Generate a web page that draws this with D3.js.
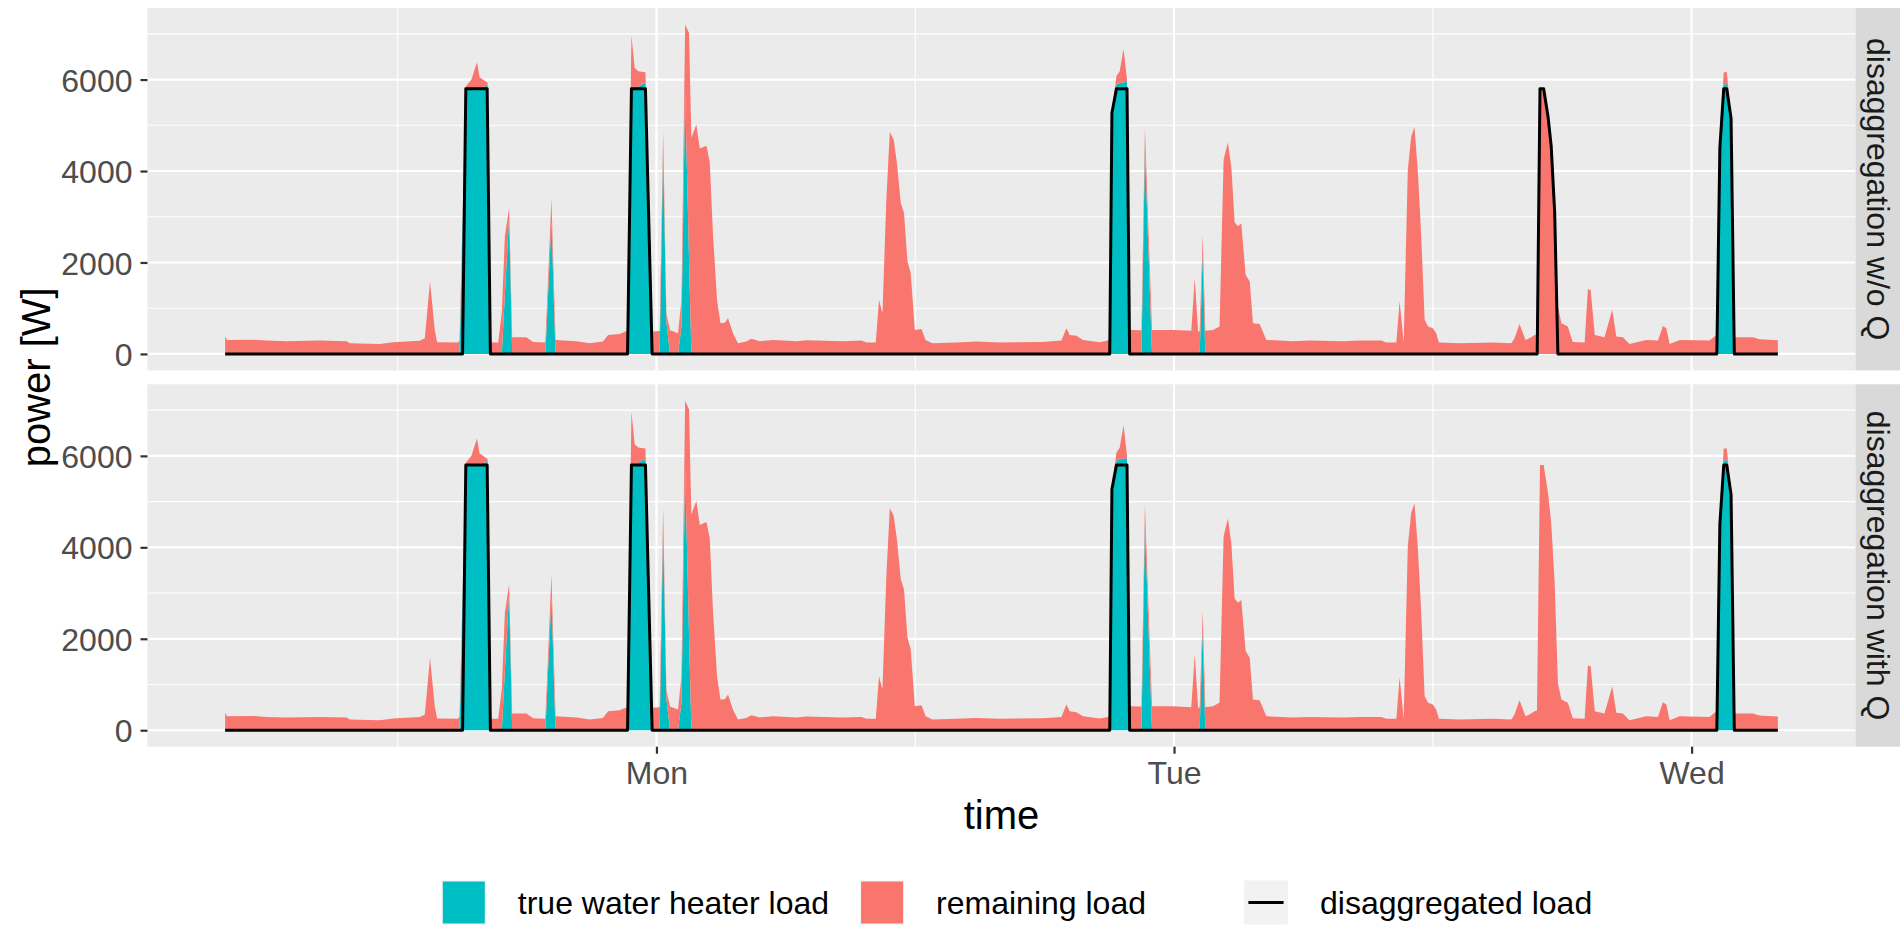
<!DOCTYPE html>
<html><head><meta charset="utf-8">
<script src="https://cdn.jsdelivr.net/npm/d3@7"></script>
<style>
body{margin:0;background:#fff}
svg{display:block}
text{font-family:"Liberation Sans",Arial,Helvetica,sans-serif}
</style>
</head><body>
<svg id="c" width="1900" height="927"></svg>
<script>
// ---- data (hours since Sunday 00:00, power in W) ----
const hours = [
  4.00,4.09,5.30,5.92,6.85,8.39,9.63,9.78,11.17,11.79,
  13.03,13.26,13.50,13.72,13.83,14.80,14.87,15.16,15.42,15.68,
  15.80,16.17,16.29,16.66,16.83,16.97,17.17,17.31,17.97,18.28,
  18.85,19.13,19.32,20.29,20.91,21.52,21.76,22.30,22.56,22.66,
  22.84,22.99,23.15,23.49,23.80,24.15,24.31,24.46,24.63,25.00,
  25.16,25.33,25.51,25.62,25.85,26.01,26.32,26.47,26.62,26.81,
  26.97,27.17,27.32,27.55,27.78,28.17,28.40,28.79,29.41,30.49,
  30.95,32.65,33.50,33.74,34.17,34.32,34.48,34.66,34.82,35.00,
  35.15,35.33,35.48,35.64,35.79,35.98,36.29,36.48,36.80,37.91,
  38.84,39.92,41.91,42.78,43.01,43.16,43.47,43.78,44.55,44.94,
  45.04,45.12,45.33,45.48,45.66,45.82,45.94,46.49,46.65,46.98,
  47.95,48.80,48.96,49.12,49.19,49.33,49.45,49.80,50.11,50.30,
  50.50,50.66,50.81,50.96,51.12,51.32,51.51,51.66,51.97,52.28,
  53.51,54.29,55.83,56.61,57.61,57.84,58.31,58.46,58.65,58.84,
  59.00,59.15,59.31,59.47,59.62,59.78,60.00,60.16,60.28,61.24,
  62.79,63.64,63.79,64.02,64.30,64.48,64.72,64.83,64.97,65.14,
  65.34,65.49,65.65,65.80,65.96,66.26,66.49,67.04,67.19,67.32,
  67.51,67.96,68.32,68.51,68.81,69.12,69.90,70.44,70.67,70.83,
  70.98,71.45,72.83,73.06,73.17,73.31,73.49,73.63,73.83,73.98,
  74.84,75.15,76.00
];
const waterHeater = [
  0,0,0,0,0,0,0,0,0,0,
  0,0,0,0,0,0,0,5800,5800,5810,
  5820,5870,0,0,0,1290,3000,0,0,0,
  0,2900,0,0,0,0,0,0,0,0,
  5800,5820,5850,5930,0,0,4400,700,0,0,
  600,5700,2100,0,0,0,0,0,0,0,
  0,0,0,0,0,0,0,0,0,0,
  0,0,0,0,0,0,0,0,0,0,
  0,0,0,0,0,0,0,0,0,0,
  0,0,0,0,0,0,0,0,0,0,
  0,5000,5900,5920,5940,5950,0,0,4470,0,
  0,0,0,0,0,2200,0,0,0,0,
  0,0,0,0,0,0,0,0,0,0,
  0,0,0,0,0,0,0,0,0,0,
  0,0,0,0,0,0,0,0,0,0,
  0,0,0,0,0,0,0,0,0,0,
  0,0,0,0,0,0,0,0,0,0,
  0,0,0,0,0,0,0,0,0,0,
  0,0,0,0,0,4500,5900,5900,5150,0,
  0,0,0
];
const remaining = [
  380,307,310,292,277,292,277,234,219,255,
  290,343,1584,525,255,250,300,50,200,570,
  230,60,250,250,900,1280,190,365,365,263,
  250,500,307,277,234,270,416,438,489,500,
  1164,436,333,231,489,504,470,190,520,453,
  580,1505,4920,4720,5015,4490,4555,4200,2640,1180,
  670,680,780,450,234,270,330,277,307,277,
  300,277,292,250,250,1180,890,3370,4855,4690,
  4175,3300,3080,2020,1770,525,547,307,234,250,
  270,250,263,292,562,416,395,307,255,292,
  300,300,170,260,730,50,525,520,460,525,
  525,505,1660,480,500,400,505,525,600,4250,
  4630,4070,2880,2790,2850,1730,1585,670,657,307,
  277,292,277,292,292,250,250,1160,250,4030,
  4760,4965,3960,2500,745,600,560,453,250,234,
  250,234,343,657,307,343,416,430,5800,5800,
  5200,4540,3230,1040,670,600,263,250,1416,1400,
  416,365,964,380,365,219,307,292,613,560,
  219,307,292,380,400,100,260,260,50,365,
  365,320,300
];
const disaggHours = [4,15.01,15.16,16.15,16.30,22.66,22.84,23.49,23.80,45.02,45.12,45.33,45.82,45.94,
  64.84,64.97,65.14,65.34,65.49,65.65,65.80,73.17,73.31,73.49,73.63,73.83,73.98,76];
const disaggWithoutQ = [0,0,5800,5800,0,0,5800,5800,0,0,5270,5800,5800,0,
  0,5800,5800,5200,4540,3100,0,0,4500,5800,5800,5150,0,0];
const disaggWithQ = [0,0,5800,5800,0,0,5800,5800,0,0,5270,5800,5800,0,
  0,0,0,0,0,0,0,0,4500,5800,5800,5150,0,0];
const panelNames = ["disaggregation w/o Q","disaggregation with Q"];
const yTicks = [0,2000,4000,6000];
const yMinorTicks = [1000,3000,5000,7000];
const xTickHours = [24,48,72];
const xTickLabels = ["Mon","Tue","Wed"];
const xMinorHours = [12,36,60];
const fillNames = ["true water heater load","remaining load"];
const lineName = "disaggregated load";

// ---- layout / style ----
const TEAL="#00BFC4", SALMON="#F8766D";
const PL=147.5, PR=1855.5, PH=362.4;
const panelTops=[8,384.3];
const STRIP_W=44.5;
const svg=d3.select("#c");

const ext=d3.extent(hours), xp=(ext[1]-ext[0])*0.05;
const x=d3.scaleLinear().domain([ext[0]-xp,ext[1]+xp]).range([PL,PR]);
const rows=hours.map((h,i)=>({h,wh:waterHeater[i],rem:remaining[i]}));
const layers=d3.stack().keys(["wh","rem"])(rows);
const maxY=d3.max(rows,d=>d.wh+d.rem);
const yp=maxY*0.05;
const disaggSeries=[disaggWithoutQ,disaggWithQ];

panelNames.forEach((name,pi)=>{
  const top=panelTops[pi], bot=top+PH;
  const y=d3.scaleLinear().domain([-yp,maxY+yp]).range([bot,top]);
  const g=svg.append("g");
  g.append("rect").attr("x",PL).attr("y",top).attr("width",PR-PL).attr("height",PH).attr("fill","#EBEBEB");
  g.selectAll(".ymin").data(yMinorTicks.filter(v=>y(v)>=top&&y(v)<=bot)).join("line")
    .attr("x1",PL).attr("x2",PR).attr("y1",d=>y(d)).attr("y2",d=>y(d)).attr("stroke","#fff").attr("stroke-width",1.1);
  g.selectAll(".xmin").data(xMinorHours).join("line")
    .attr("x1",d=>x(d)).attr("x2",d=>x(d)).attr("y1",top).attr("y2",bot).attr("stroke","#fff").attr("stroke-width",1.1);
  g.selectAll(".ymaj").data(yTicks).join("line")
    .attr("x1",PL).attr("x2",PR).attr("y1",d=>y(d)).attr("y2",d=>y(d)).attr("stroke","#fff").attr("stroke-width",2.2);
  g.selectAll(".xmaj").data(xTickHours).join("line")
    .attr("x1",d=>x(d)).attr("x2",d=>x(d)).attr("y1",top).attr("y2",bot).attr("stroke","#fff").attr("stroke-width",2.2);
  const cid="clip"+pi;
  svg.append("clipPath").attr("id",cid).append("rect").attr("x",PL).attr("y",top).attr("width",PR-PL).attr("height",PH);
  const gc=g.append("g").attr("clip-path",`url(#${cid})`);
  const area=d3.area().x(d=>x(d.data.h)).y0(d=>y(d[0])).y1(d=>y(d[1]));
  gc.selectAll(".layer").data(layers).join("path")
    .attr("d",area).attr("fill",(d,i)=>i===0?TEAL:SALMON);
  const line=d3.line().x(d=>x(d[0])).y(d=>y(d[1]));
  gc.append("path").datum(disaggHours.map((h,i)=>[h,disaggSeries[pi][i]]))
    .attr("d",line).attr("fill","none").attr("stroke","#000").attr("stroke-width",3).attr("stroke-linejoin","round");
  const ya=g.append("g").attr("transform",`translate(${PL},0)`)
    .call(d3.axisLeft(y).tickValues(yTicks).tickSize(7).tickPadding(8).tickFormat(d3.format("d")));
  ya.select(".domain").remove();
  ya.selectAll(".tick line").attr("stroke","#333").attr("stroke-width",2.2);
  ya.selectAll(".tick text").attr("fill","#4D4D4D").style("font-size","32px").attr("dy","0.36em");
  g.append("rect").attr("x",PR).attr("y",top).attr("width",STRIP_W).attr("height",PH).attr("fill","#D9D9D9");
  g.append("text").attr("transform",`translate(${PR+STRIP_W/2},${top+PH/2}) rotate(90)`)
    .attr("text-anchor","middle").attr("dy","0.35em").attr("fill","#1A1A1A").style("font-size","32px").text(name);
  if(pi===1){
    const xa=g.append("g").attr("transform",`translate(0,${bot})`)
      .call(d3.axisBottom(x).tickValues(xTickHours).tickSize(7).tickPadding(6).tickFormat((d,i)=>xTickLabels[i]));
    xa.select(".domain").remove();
    xa.selectAll(".tick line").attr("stroke","#333").attr("stroke-width",2.2);
    xa.selectAll(".tick text").attr("fill","#4D4D4D").style("font-size","32px").attr("dy","0.76em");
  }
});

svg.append("text").attr("x",(PL+PR)/2).attr("y",829).attr("text-anchor","middle").style("font-size","40px").attr("fill","#000").text("time");
svg.append("text").attr("transform",`translate(50,${(panelTops[0]+panelTops[1]+PH)/2}) rotate(-90)`)
  .attr("text-anchor","middle").style("font-size","40px").attr("fill","#000").text("power [W]");

// legend
const KEY=44, LY=880.5, gapKT=32, gapItem=31, gapGuide=98;
const lg=svg.append("g");
const items=[
  {type:"fill",color:TEAL,label:fillNames[0]},
  {type:"fill",color:SALMON,label:fillNames[1]},
  {type:"line",color:"#000",label:lineName}
];
const widths=items.map(it=>{
  const t=lg.append("text").style("font-size","32px").text(it.label);
  const w=t.node().getComputedTextLength(); t.remove(); return w;
});
let total=0; items.forEach((it,i)=>{total+=KEY+gapKT+widths[i]; if(i===0) total+=gapItem; if(i===1) total+=gapGuide;});
let cx=1017-total/2;
items.forEach((it,i)=>{
  lg.append("rect").attr("x",cx).attr("y",LY).attr("width",KEY).attr("height",KEY).attr("fill","#F2F2F2");
  if(it.type==="fill"){
    lg.append("rect").attr("x",cx+1).attr("y",LY+1).attr("width",KEY-2).attr("height",KEY-2).attr("fill",it.color);
  } else {
    lg.append("line").attr("x1",cx+KEY*0.1).attr("x2",cx+KEY*0.9).attr("y1",LY+KEY/2).attr("y2",LY+KEY/2)
      .attr("stroke",it.color).attr("stroke-width",3);
  }
  lg.append("text").attr("x",cx+KEY+gapKT).attr("y",LY+KEY/2).attr("dy","0.35em").style("font-size","32px").attr("fill","#000").text(it.label);
  cx+=KEY+gapKT+widths[i]+(i===0?gapItem:(i===1?gapGuide:0));
});
</script>
</body></html>
